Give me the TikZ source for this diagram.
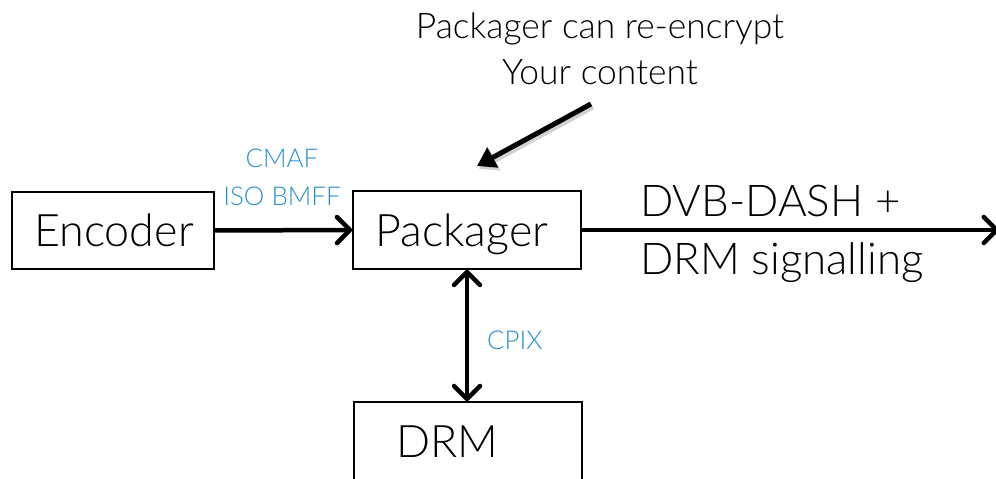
\documentclass[tikz,border=0pt]{standalone}
\usepackage{fontspec}
\setmainfont{Lato Light}
\usetikzlibrary{arrows.meta}
\definecolor{lblue}{RGB}{40,146,206}
\begin{document}
\begin{tikzpicture}[x=1bp,y=-1bp,
  box/.style={draw, line width=1.5bp, inner sep=0pt},
  big/.style={font=\fontsize{45}{54}\selectfont, inner sep=0pt},
  note/.style={font=\fontsize{35.5}{44}\selectfont, inner sep=0pt},
  lab/.style={font=\fontsize{26}{32}\selectfont, text=lblue, inner sep=0pt},
  conn/.style={line width=4.5bp, -{Straight Barb[round, length=13bp, width=26bp]}},
  bconn/.style={line width=4.5bp, {Straight Barb[round, length=13bp, width=26bp]}-{Straight Barb[round, length=13bp, width=26bp]}},
]
\useasboundingbox (0,0) rectangle (996,479);
\clip (0,0) rectangle (996,479);
% boxes
\node[box, minimum width=202bp, minimum height=77bp] (enc) at (113,230.5) {};
\node[box, minimum width=228bp, minimum height=78bp] (pack) at (467,230) {};
\node[box, minimum width=228bp, minimum height=140bp] (drm) at (468,472) {};
% box texts
\node[big, anchor=base] (enctext) at (114,247) {Encoder};
\node[big, anchor=base] (packtext) at (462,247) {Packager};
\node[big, anchor=base] (drmtext) at (447,457) {DRM};
% connectors
\coordinate (out) at (999,230);
\draw[conn] (enc.east) -- (pack.west);
\draw[conn] (pack.east) -- (out);
\draw[bconn] (pack.south) -- (pack.south |- drm.north);
% labels
\node[lab, anchor=base] (cmaf) at (282,168) {CMAF};
\node[lab, anchor=base] (isobmff) at (282,206) {ISO BMFF};
\node[lab, anchor=base west] (cpix) at (487,350) {CPIX};
\node[big, anchor=base west, font=\fontsize{44}{54}\selectfont] (dvb1) at (640,217) {DVB-DASH +};
\node[big, anchor=base west, font=\fontsize{44}{54}\selectfont] (dvb2) at (640,275) {DRM signalling};
% top note
\node[note, anchor=base] (note1) at (600,39) {Packager can re-encrypt};
\node[note, anchor=base] (note2) at (600,85) {Your content};
\coordinate (ns) at (591,104);
\coordinate (ne) at (477,166);
\draw[line width=5bp, black!35, opacity=0.5, -{Triangle[length=18bp, width=22bp]}] ([shift={(2,3)}]ns) -- ([shift={(2,3)}]ne);
\draw[line width=5bp, -{Triangle[length=18bp, width=22bp]}] (ns) -- (ne);
\end{tikzpicture}
\end{document}
